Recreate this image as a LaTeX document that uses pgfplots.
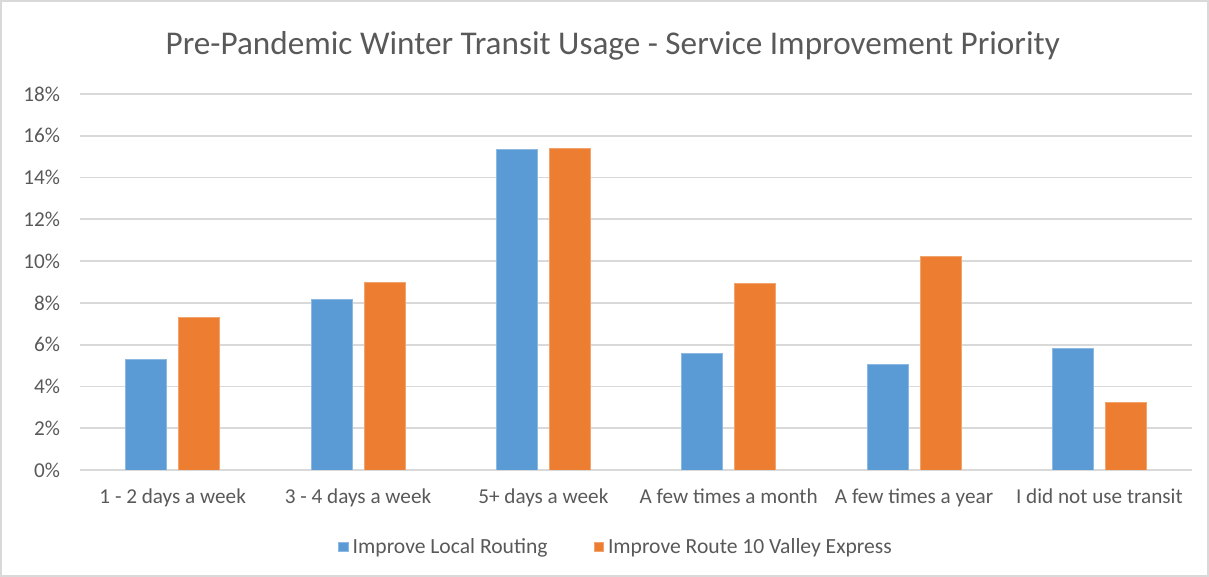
\documentclass[border=0pt]{standalone}
\usepackage{fontspec}
\setmainfont{Carlito}
\usepackage{pgfplots}
\pgfplotsset{compat=1.18}
\definecolor{barblue}{HTML}{5B9BD5}
\definecolor{barorange}{HTML}{ED7D31}
\definecolor{txtgray}{HTML}{595959}
\definecolor{gridgray}{HTML}{D9D9D9}
\begin{document}
\begin{tikzpicture}
\draw[gridgray, line width=0.8pt] (-39.6pt,-53.1pt) rectangle (564.1pt,234.6pt);
\begin{axis}[
  at={(0,0)}, anchor=south west,
  scale only axis,
  width=556pt, height=188pt,
  ybar, bar width=20.5pt,
  ymin=0, ymax=18,
  xmin=-0.5, xmax=5.5,
  ytick={0,2,...,18},
  yticklabel={\pgfmathprintnumber{\tick}\%},
  xtick={0,...,5},
  xticklabels={1 - 2 days a week,3 - 4 days a week,5+ days a week,A few times a month,A few times a year,I did not use transit},
  /pgf/number format/assume math mode=true,
  axis line style={draw=none},
  major tick length=0pt,
  ymajorgrids,
  grid style={gridgray, line width=0.9pt},
  tick label style={font=\fontsize{10.6}{12}\selectfont, text=txtgray},
  xticklabel style={yshift=-6pt},
  yticklabel style={xshift=-6.5pt},
  title={Pre-Pandemic Winter Transit Usage - Service Improvement Priority},
  title style={at={(0.479,1.095)}, anchor=center, font=\fontsize{16.6}{19}\selectfont, text=txtgray},
  legend style={at={(0.483,-0.205)}, anchor=center, draw=none, legend columns=-1,
    font=\fontsize{10.8}{12}\selectfont, text=txtgray,
    /tikz/every even column/.append style={column sep=21pt}},
  legend image code/.code={\fill[#1] (0pt,-2.4pt) rectangle (4.8pt,2.4pt);},
]
\draw[gridgray, line width=0.9pt] (axis cs:-0.5,0) -- (axis cs:5.5,0);
\addplot[fill=barblue, draw=barblue!70!white, bar shift=-13.25pt] coordinates {
  (0,5.29) (1,8.18) (2,15.36) (3,5.60) (4,5.04) (5,5.82)};
\addplot[fill=barorange, draw=barorange!70!white, bar shift=13.25pt] coordinates {
  (0,7.31) (1,8.96) (2,15.38) (3,8.95) (4,10.22) (5,3.23)};
\legend{Improve Local Routing,Improve Route 10 Valley Express}
\end{axis}
\end{tikzpicture}
\end{document}
